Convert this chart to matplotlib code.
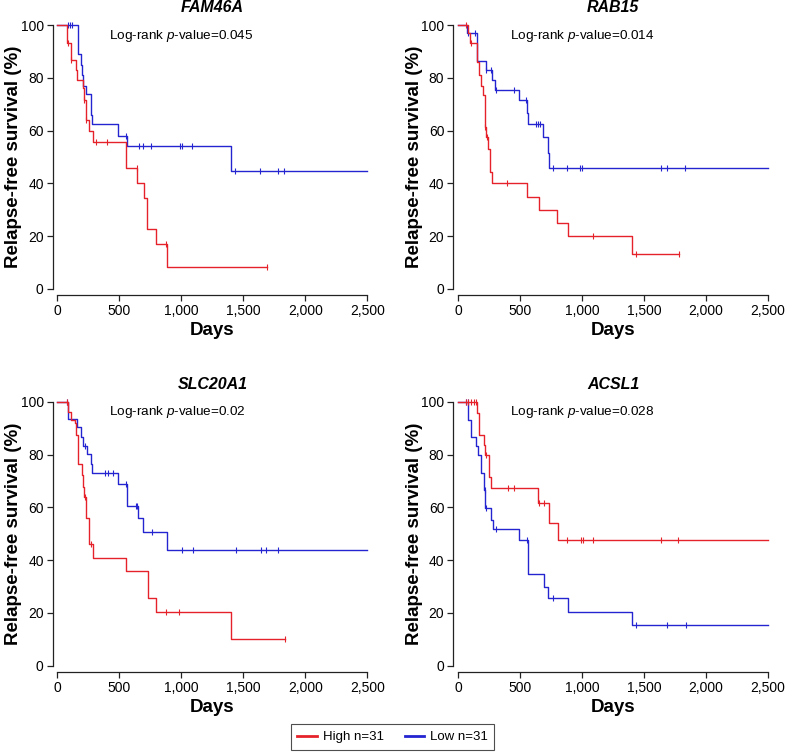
import numpy as np
import matplotlib
matplotlib.use("Agg")
import matplotlib.pyplot as plt
from matplotlib.lines import Line2D

plt.rcParams['font.family'] = ['Liberation Sans', 'DejaVu Sans']
plt.rcParams['mathtext.fontset'] = 'custom'
plt.rcParams['mathtext.rm'] = 'Liberation Sans'
plt.rcParams['mathtext.it'] = 'Liberation Sans:italic'

RED = '#E5222A'
BLUE = '#2424D0'

genes = ['FAM46A', 'RAB15', 'SLC20A1', 'ACSL1']
pvals = ['0.045', '0.014', '0.02', '0.028']

# FAM46A
fam46a_high_t = [0, 80, 107, 150, 161, 209, 217, 230, 257, 289, 557, 645, 700, 726, 798, 884]
fam46a_high_s = [100, 93.3, 86.7, 83, 79, 76, 71.6, 64, 60, 55.8, 45.7, 40, 34.3, 22.8, 17, 8.5]
fam46a_high_cens = [89, 112, 217, 232, 316, 397, 640, 877, 1690]
fam46a_high_end = 1690
fam46a_low_t = [0, 165, 188, 201, 209, 230, 268, 281, 490, 565, 1400]
fam46a_low_s = [100, 89, 85, 81, 77, 74, 66, 62.5, 58, 54, 44.7]
fam46a_low_cens = [89, 102, 115, 557, 659, 691, 758, 993, 1007, 1087, 1435, 1636, 1778, 1831]
fam46a_low_end = 2500

# RAB15
rab15_high_t = [0, 80, 94, 156, 169, 188, 201, 215, 225, 240, 255, 276, 555, 657, 799, 885, 1402]
rab15_high_s = [100, 96.8, 93, 86, 81, 77, 73.5, 61.5, 57.7, 53, 44.4, 40, 35, 30, 25, 20, 13.3]
rab15_high_cens = [67, 107, 217, 235, 397, 1091, 1439, 1782]
rab15_high_end = 1782
rab15_low_t = [0, 75, 156, 228, 276, 295, 488, 558, 568, 689, 722, 730]
rab15_low_s = [100, 96.8, 86.4, 83, 79, 75.4, 71.6, 66.5, 62.4, 57.7, 51.4, 45.7]
rab15_low_cens = [80, 140, 228, 268, 308, 448, 550, 633, 649, 662, 764, 880, 987, 997, 1636, 1684, 1834]
rab15_low_end = 2500

# SLC20A1
slc20a1_high_t = [0, 89, 107, 142, 150, 164, 196, 204, 217, 230, 257, 289, 557, 731, 798, 1400]
slc20a1_high_s = [100, 96.2, 93, 91.8, 87.6, 76.4, 72.2, 67.8, 64, 55.8, 46.3, 41, 36, 25.5, 20.2, 10.1]
slc20a1_high_cens = [79, 222, 269, 877, 984, 1836]
slc20a1_high_end = 1836
slc20a1_low_t = [0, 89, 155, 188, 209, 236, 268, 281, 490, 565, 651, 691, 884]
slc20a1_low_s = [100, 93.3, 90.3, 86.7, 83.2, 80.2, 76.4, 73.1, 68.8, 60.6, 55.8, 50.5, 44]
slc20a1_low_cens = [79, 222, 383, 410, 450, 557, 637, 645, 766, 1007, 1092, 1440, 1641, 1681, 1780]
slc20a1_low_end = 2500

# ACSL1
acsl1_high_t = [0, 153, 169, 209, 220, 250, 268, 643, 732, 804]
acsl1_high_s = [100, 95.6, 87.6, 83.6, 79.8, 71.6, 67.2, 61.5, 54.2, 47.6]
acsl1_high_cens = [67, 81, 107, 129, 142, 223, 402, 448, 657, 697, 879, 992, 1005, 1091, 1640, 1777]
acsl1_high_end = 2500
acsl1_low_t = [0, 81, 107, 148, 161, 188, 209, 220, 268, 282, 488, 563, 692, 729, 885, 1407]
acsl1_low_s = [100, 93, 86.5, 83.2, 79.8, 72.9, 66.5, 59.6, 55.2, 51.8, 47.6, 34.6, 30, 25.8, 20.5, 15.4]
acsl1_low_cens = [67, 78, 215, 223, 308, 558, 764, 1439, 1687, 1840]
acsl1_low_end = 2500

curves = [
    ((fam46a_high_t, fam46a_high_s, fam46a_high_cens, fam46a_high_end),
     (fam46a_low_t, fam46a_low_s, fam46a_low_cens, fam46a_low_end)),
    ((rab15_high_t, rab15_high_s, rab15_high_cens, rab15_high_end),
     (rab15_low_t, rab15_low_s, rab15_low_cens, rab15_low_end)),
    ((slc20a1_high_t, slc20a1_high_s, slc20a1_high_cens, slc20a1_high_end),
     (slc20a1_low_t, slc20a1_low_s, slc20a1_low_cens, slc20a1_low_end)),
    ((acsl1_high_t, acsl1_high_s, acsl1_high_cens, acsl1_high_end),
     (acsl1_low_t, acsl1_low_s, acsl1_low_cens, acsl1_low_end)),
]

W, H = 785, 752
fig = plt.figure(figsize=(W / 100, H / 100), dpi=100)

# panel boxes in pixels: left, top, width, height
boxes = [(52.7, 19.2), (453.4, 19.2), (52.7, 396.0), (453.4, 396.0)]
bw, bh = 319.2, 275.6


def km(ax, t, s, cens, end, color):
    t = np.array(t, dtype=float)
    s = np.array(s, dtype=float)
    xs = np.append(t, end)
    ys = np.append(s, s[-1])
    ax.step(xs, ys, where='post', color=color, lw=1.0)
    c = np.array(cens, dtype=float)
    idx = np.searchsorted(t, c, side='right') - 1
    ax.plot(c, s[idx], ls='none', marker='|', ms=5, mew=0.8, color=color)


for i, (gene, pv, (hi, lo)) in enumerate(zip(genes, pvals, curves)):
    l, tp = boxes[i]
    ax = fig.add_axes([l / W, 1 - (tp + bh) / H, bw / W, bh / H])
    km(ax, *lo, BLUE)
    km(ax, *hi, RED)
    ax.set_xlim(-37, 2537)
    ax.set_ylim(-2.2, 102.2)
    for sp in ['top', 'right']:
        ax.spines[sp].set_visible(False)
    ax.spines['left'].set_bounds(0, 100)
    ax.spines['bottom'].set_bounds(0, 2500)
    for sp in ['left', 'bottom']:
        ax.spines[sp].set_color('#222222')
        ax.spines[sp].set_linewidth(0.9)
    ax.set_xticks([0, 500, 1000, 1500, 2000, 2500])
    ax.set_xticklabels(['0', '500', '1,000', '1,500', '2,000', '2,500'])
    ax.set_yticks([0, 20, 40, 60, 80, 100])
    ax.tick_params(length=4, width=0.9, pad=2.5, labelsize=10, color='#222222')
    ax.set_xlabel('Days', fontsize=13.5, fontweight='bold', labelpad=3)
    ax.set_ylabel('Relapse-free survival (%)', fontsize=13.5, fontweight='bold', labelpad=-1)
    ax.set_title(gene, fontsize=11.5, fontweight='bold', style='italic', pad=5)
    ax.text(418, 96, 'Log-rank $p$-value=' + pv, fontsize=9.7, va='center', ha='left')

handles = [Line2D([], [], color=RED, lw=2), Line2D([], [], color=BLUE, lw=2)]
leg = fig.legend(handles, ['High n=31', 'Low n=31'], loc='center',
                 bbox_to_anchor=(392.5 / W, 1 - 737 / H), ncol=2, fontsize=9.5,
                 frameon=True, fancybox=False, edgecolor='#222222',
                 handlelength=1.5, handletextpad=0.4, columnspacing=1.6,
                 borderpad=0.5)
leg.get_frame().set_linewidth(0.8)

fig.savefig('out.png', dpi=100)
